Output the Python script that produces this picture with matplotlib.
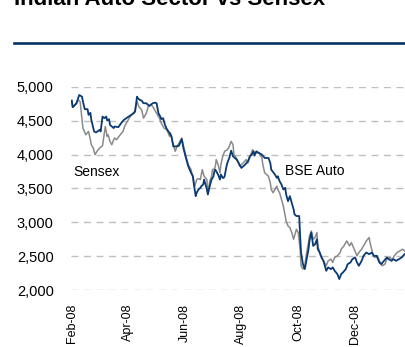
import matplotlib
matplotlib.use("Agg")
import matplotlib.pyplot as plt
import matplotlib.dates as mdates
from matplotlib.lines import Line2D
from matplotlib.ticker import FuncFormatter
import pandas as pd

plt.rcParams['font.family'] = ['Liberation Sans', 'DejaVu Sans']

title = "Indian Auto Sector vs Sensex"
start_date = "2008-02-01"

# BSE Auto (navy): days since 1 Feb 2008, rebased value
auto_days = [0, 1, 5, 8, 11, 12, 14, 17, 18, 20, 21, 24, 26, 30, 31, 33, 35, 37, 38, 40,
             41, 43, 45, 46, 50, 53, 56, 61, 64, 68, 70, 71, 73, 75, 77, 80, 83, 87, 89, 91,
             93, 95, 96, 98, 100, 102, 105, 107, 109, 112, 115, 118, 120, 123, 125, 128, 130, 131, 133, 134,
             136, 138, 139, 141, 142, 144, 145, 146, 148, 150, 152, 153, 154, 155, 157, 159, 160, 162, 163, 164,
             166, 167, 169, 171, 173, 177, 180, 182, 186, 189, 191, 193, 195, 196, 198, 201, 204, 207, 211, 213,
             214, 218, 220, 221, 223, 225, 227, 229, 230, 232, 234, 236, 238, 239, 241, 244, 245, 246, 248, 250,
             252, 254, 255, 257, 259, 261, 263, 264, 266, 268, 270, 273, 275, 278, 280, 282, 285, 287, 289, 291,
             294, 296, 299, 301, 304, 306, 308, 311, 313, 316, 319, 322, 324, 327, 330, 332, 335, 338, 340, 343,
             345, 348, 351, 354, 357]
auto_vals = [4799, 4701, 4760, 4882, 4857, 4784, 4672, 4672, 4588, 4618, 4515, 4343, 4328, 4368, 4343, 4563, 4540, 4563, 4504, 4525,
             4441, 4416, 4393, 4416, 4407, 4466, 4515, 4563, 4588, 4637, 4857, 4834, 4809, 4799, 4760, 4760, 4721, 4760, 4769, 4760,
             4613, 4563, 4525, 4540, 4441, 4378, 4319, 4269, 4122, 4122, 4132, 4231, 4084, 3926, 3828, 3731, 3681, 3559, 3387, 3437,
             3485, 3510, 3534, 3559, 3632, 3534, 3485, 3412, 3534, 3632, 3681, 3755, 3779, 3755, 3706, 3632, 3706, 3657, 3657, 3681,
             3828, 3882, 3951, 4059, 3975, 3926, 3853, 3804, 3853, 3902, 3975, 4000, 4049, 3985, 4049, 4025, 4000, 3951, 3951, 3878,
             3779, 3706, 3657, 3681, 3607, 3559, 3485, 3510, 3412, 3313, 3387, 3290, 3191, 3118, 3093, 3093, 2799, 2554, 2382, 2309,
             2456, 2603, 2725, 2848, 2652, 2676, 2750, 2603, 2554, 2481, 2431, 2284, 2334, 2309, 2334, 2284, 2235, 2162, 2235, 2260,
             2309, 2382, 2407, 2456, 2481, 2407, 2358, 2431, 2505, 2554, 2529, 2554, 2505, 2505, 2407, 2382, 2431, 2481, 2456, 2431,
             2456, 2431, 2456, 2481, 2529]

# Sensex (grey)
sensex_days = [0, 1, 5, 7, 9, 11, 12, 15, 18, 20, 21, 23, 25, 27, 30, 33, 36, 38, 39, 41,
               43, 45, 46, 48, 52, 55, 57, 61, 64, 67, 69, 70, 72, 75, 77, 80, 82, 85, 87, 89,
               91, 94, 96, 99, 102, 105, 106, 108, 111, 113, 116, 118, 120, 123, 125, 128, 130, 132, 134, 136,
               138, 140, 142, 145, 146, 148, 150, 151, 153, 154, 155, 157, 159, 160, 162, 164, 167, 169, 171, 173,
               174, 176, 179, 180, 184, 187, 189, 192, 194, 196, 201, 204, 205, 207, 211, 213, 214, 216, 220, 221,
               223, 225, 227, 229, 230, 232, 234, 236, 238, 239, 241, 243, 245, 246, 248, 250, 252, 254, 255, 257,
               259, 261, 263, 264, 267, 269, 271, 273, 275, 278, 280, 282, 285, 288, 289, 292, 295, 298, 300, 303,
               306, 308, 311, 313, 316, 319, 320, 323, 325, 328, 330, 333, 336, 338, 341, 344, 346, 349, 352, 355,
               357]
sensex_vals = [4799, 4701, 4750, 4809, 4784, 4515, 4393, 4294, 4343, 4221, 4147, 4099, 4000, 4049, 4099, 4132, 4416, 4269, 4294, 4196,
               4147, 4221, 4246, 4221, 4294, 4343, 4427, 4525, 4588, 4613, 4735, 4784, 4710, 4662, 4540, 4613, 4710, 4735, 4710, 4662,
               4613, 4540, 4466, 4393, 4368, 4269, 4319, 4196, 4049, 4122, 4196, 4246, 4122, 3951, 3853, 3779, 3657, 3534, 3632, 3647,
               3632, 3779, 3681, 3632, 3412, 3607, 3681, 3779, 3790, 3828, 3926, 3853, 3731, 3853, 3975, 4049, 4074, 4122, 4196, 4147,
               4000, 3966, 3878, 3828, 3878, 3926, 3878, 4000, 4074, 4025, 4025, 3951, 3853, 3731, 3681, 3584, 3485, 3437, 3534, 3485,
               3437, 3338, 3240, 3093, 3019, 2946, 2922, 2848, 2750, 2799, 2897, 2848, 2603, 2358, 2309, 2358, 2554, 2701, 2799, 2872,
               2750, 2775, 2848, 2652, 2505, 2456, 2407, 2358, 2431, 2456, 2407, 2481, 2505, 2554, 2603, 2652, 2725, 2652, 2701, 2603,
               2505, 2554, 2603, 2652, 2725, 2775, 2701, 2529, 2481, 2505, 2431, 2358, 2382, 2456, 2481, 2456, 2505, 2554, 2578, 2603,
               2578]

y_ticks = [2000, 2500, 3000, 3500, 4000, 4500, 5000]
x_tick_dates = ["2008-02-01", "2008-04-01", "2008-06-01", "2008-08-01", "2008-10-01", "2008-12-01"]

navy = "#0a3a72"
grey = "#8a8a8a"

W, H = 406, 347
fig = plt.figure(figsize=(W / 100, H / 100), dpi=100)
ax = fig.add_axes([71 / W, 1 - 290 / H, 334 / W, 203 / H])

t0 = pd.Timestamp(start_date)
auto_dates = t0 + pd.to_timedelta(auto_days, unit="D")
sensex_dates = t0 + pd.to_timedelta(sensex_days, unit="D")

ax.plot(sensex_dates, sensex_vals, color=grey, lw=1.1, zorder=3)
ax.plot(auto_dates, auto_vals, color=navy, lw=1.3, zorder=4)

ax.set_ylim(2000, 5000)
ax.set_xlim(t0 - pd.Timedelta(days=0.8), t0 + pd.Timedelta(days=357.5))
ax.set_yticks(y_ticks)
ax.yaxis.set_major_formatter(FuncFormatter(lambda v, p: f"{int(v):,}"))
ax.set_xticks(pd.to_datetime(x_tick_dates))
ax.xaxis.set_major_formatter(mdates.DateFormatter("%b-%y"))
for lab in ax.get_xticklabels():
    lab.set_rotation(90)
ax.tick_params(axis="x", length=0, pad=10, labelsize=9, colors="black")
ax.tick_params(axis="y", length=0, pad=12.5, labelsize=10.5, colors="black")
ax.grid(axis="y", color="#bfbfbf", linestyle=(0, (5, 4)), lw=1.0, zorder=0)
for s in ax.spines.values():
    s.set_visible(False)
ax.patch.set_alpha(0)

ax.text(t0 + pd.Timedelta(days=1.5), 3750, "Sensex", fontsize=10, ha="left", va="center")
ax.text(t0 + pd.Timedelta(days=228.5), 3765, "BSE Auto", fontsize=10, ha="left", va="center")

fig.text(14 / W, 1 - 4.7 / H, title, fontsize=16, fontweight="bold", ha="left", va="baseline")
fig.add_artist(Line2D([14 / W, 1.0], [1 - 43 / H, 1 - 43 / H], transform=fig.transFigure,
                      color="#003366", lw=1.9))

fig.savefig("out.png", dpi=100)
